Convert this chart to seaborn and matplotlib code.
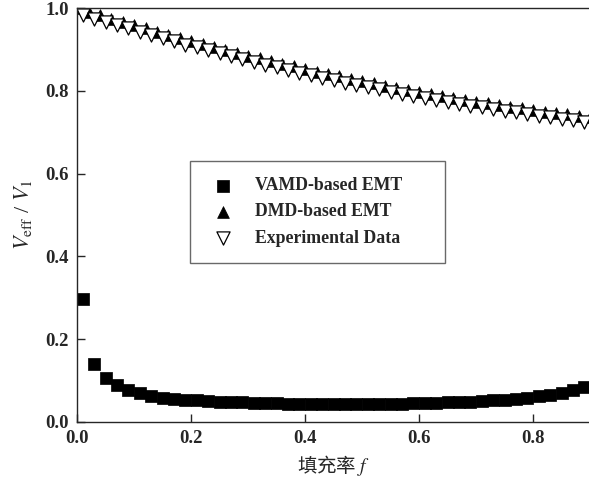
import numpy as np
import pandas as pd
import seaborn as sns
import matplotlib.pyplot as plt

# VAMD-based EMT (squares)
f_vamd = [0.01, 0.03, 0.05, 0.07, 0.09, 0.11, 0.13, 0.15, 0.17, 0.19,
          0.21, 0.23, 0.25, 0.27, 0.29, 0.31, 0.33, 0.35, 0.37, 0.39,
          0.41, 0.43, 0.45, 0.47, 0.49, 0.51, 0.53, 0.55, 0.57, 0.59,
          0.61, 0.63, 0.65, 0.67, 0.69, 0.71, 0.73, 0.75, 0.77, 0.79,
          0.81, 0.83, 0.85, 0.87, 0.89]
v_vamd = [0.296, 0.140, 0.106, 0.089, 0.077, 0.069, 0.063, 0.059, 0.056, 0.054,
          0.052, 0.0505, 0.049, 0.048, 0.047, 0.046, 0.0455, 0.045, 0.0445, 0.044,
          0.044, 0.0435, 0.0435, 0.0435, 0.0435, 0.0435, 0.044, 0.044, 0.0445, 0.045,
          0.0455, 0.046, 0.047, 0.048, 0.049, 0.050, 0.052, 0.054, 0.056, 0.059,
          0.062, 0.066, 0.071, 0.077, 0.085]

# DMD-based EMT (filled up triangles)
f_dmd = [0.00, 0.02, 0.04, 0.06, 0.08, 0.10, 0.12, 0.14, 0.16, 0.18,
         0.20, 0.22, 0.24, 0.26, 0.28, 0.30, 0.32, 0.34, 0.36, 0.38,
         0.40, 0.42, 0.44, 0.46, 0.48, 0.50, 0.52, 0.54, 0.56, 0.58,
         0.60, 0.62, 0.64, 0.66, 0.68, 0.70, 0.72, 0.74, 0.76, 0.78,
         0.80, 0.82, 0.84, 0.86, 0.88, 0.90]
v_dmd = [1.000, 0.9915, 0.9832, 0.9749, 0.9668, 0.9588, 0.9509, 0.9431, 0.9355, 0.9280,
         0.9206, 0.9133, 0.9061, 0.8991, 0.8921, 0.8853, 0.8786, 0.8720, 0.8656, 0.8593,
         0.8530, 0.8469, 0.8410, 0.8351, 0.8294, 0.8238, 0.8183, 0.8129, 0.8076, 0.8025,
         0.7974, 0.7925, 0.7878, 0.7831, 0.7785, 0.7741, 0.7698, 0.7656, 0.7615, 0.7576,
         0.7538, 0.7500, 0.7465, 0.7430, 0.7396, 0.7364]

# Experimental data (open down triangles)
f_exp = f_vamd
v_exp = [0.984, 0.975, 0.967, 0.959, 0.951, 0.943, 0.935, 0.927, 0.920, 0.912,
         0.905, 0.898, 0.891, 0.884, 0.877, 0.870, 0.863, 0.857, 0.851, 0.844,
         0.838, 0.832, 0.826, 0.820, 0.815, 0.809, 0.804, 0.798, 0.793, 0.788,
         0.783, 0.778, 0.774, 0.769, 0.764, 0.760, 0.756, 0.752, 0.748, 0.744,
         0.740, 0.736, 0.733, 0.729, 0.726]

sns.set_style("ticks")
plt.rcParams['font.family'] = ['Liberation Serif', 'Noto Sans CJK SC', 'DejaVu Sans']
plt.rcParams['mathtext.fontset'] = 'stix'

fig = plt.figure(figsize=(5.89, 4.8), dpi=100)
ax = fig.add_axes([0.131, 0.121, 0.871, 0.862])

sns.scatterplot(x=f_vamd, y=v_vamd, marker='s', s=72, color='black',
                edgecolor='black', linewidth=0.5, label='VAMD-based EMT', ax=ax)
sns.scatterplot(x=f_dmd, y=v_dmd, marker='^', s=72, color='black',
                edgecolor='black', linewidth=0.5, label='DMD-based EMT', ax=ax)
sns.scatterplot(x=f_exp, y=v_exp, marker='v', s=90, color='white',
                edgecolor='black', linewidth=0.9, label='Experimental Data', ax=ax)

ax.set_xlim(0, 0.9)
ax.set_ylim(0, 1.0)
ax.set_xticks([0.0, 0.2, 0.4, 0.6, 0.8])
ax.set_yticks([0.0, 0.2, 0.4, 0.6, 0.8, 1.0])
ax.set_xticklabels(['0.0', '0.2', '0.4', '0.6', '0.8'])
ax.set_yticklabels(['0.0', '0.2', '0.4', '0.6', '0.8', '1.0'])
ax.tick_params(direction='in', length=6, width=1, labelsize=13.5, pad=6)
for lab in ax.get_xticklabels() + ax.get_yticklabels():
    lab.set_fontweight('bold')
for sp in ax.spines.values():
    sp.set_linewidth(1.0)
ax.spines['right'].set_visible(False)

ax.set_xlabel('填充率 $f$', fontsize=14, labelpad=4,
              family=['Noto Sans CJK SC', 'DejaVu Sans'])
ax.set_ylabel(r'$V_{\rm eff}$ / $V_1$', fontsize=16, labelpad=8)

leg = ax.legend(loc='upper left', bbox_to_anchor=(0.219, 0.377, 0.498, 0.253),
                mode='expand', fontsize=12.8,
                frameon=True, fancybox=False, edgecolor='#444444',
                borderpad=0.9, labelspacing=0.52, handletextpad=0.8,
                borderaxespad=0, markerscale=1.0)
leg.get_frame().set_linewidth(1.0)
for t in leg.get_texts():
    t.set_fontweight('bold')

fig.savefig('out.png', dpi=100)
